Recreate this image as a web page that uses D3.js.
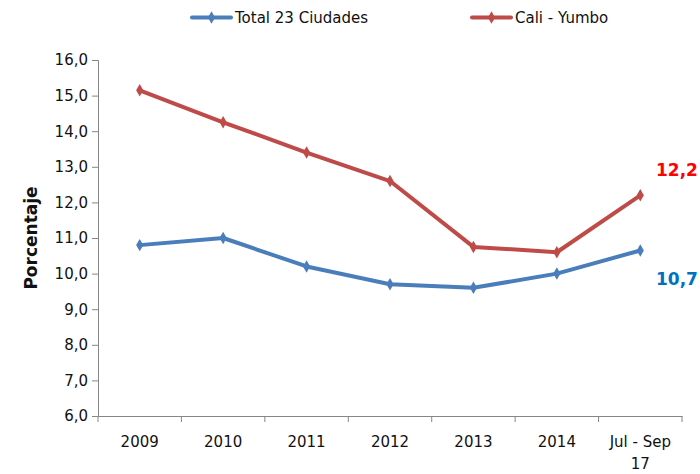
<!DOCTYPE html>
<html><head><meta charset="utf-8">
<script src="https://cdn.jsdelivr.net/npm/d3@7"></script>
<style>body{margin:0;background:#fff}svg{display:block}</style>
</head><body>
<script>
const categories = ["2009","2010","2011","2012","2013","2014","Jul - Sep 17"];
const total23 = [10.8, 11.0, 10.2, 9.7, 9.6, 10.0, 10.65];
const caliYumbo = [15.15, 14.25, 13.4, 12.6, 10.75, 10.6, 12.2];
const yTicks = [6,7,8,9,10,11,12,13,14,15,16];
const seriesNames = ["Total 23 Ciudades", "Cali - Yumbo"];
const seriesColors = ["#4a7ebb", "#be4b48"];
const endLabels = ["10,7", "12,2"];
const endLabelColors = ["#0070c0", "#ff0000"];

const W = 700, H = 474;
const m = {left: 98, right: 18, top: 60, bottom: 58};
const font = "DejaVu Sans, sans-serif";
const svg = d3.select("body").append("svg").attr("width", W).attr("height", H);

const x = d3.scaleBand().domain(categories).range([m.left, W - m.right]);
const y = d3.scaleLinear().domain([6, 16]).range([H - m.bottom, m.top]);

const fmt = v => d3.format(".1f")(v).replace(".", ",");

// y axis
const yAx = svg.append("g").attr("transform", `translate(${m.left},0)`)
  .call(d3.axisLeft(y).tickValues(yTicks).tickFormat(fmt).tickSize(6).tickPadding(4));
yAx.select(".domain").attr("stroke", "#868686");
yAx.selectAll(".tick line").attr("stroke", "#868686");
yAx.selectAll("text").attr("font-family", font).attr("font-size", 15).attr("fill", "#111");

// x axis
const xAx = svg.append("g").attr("transform", `translate(0,${H - m.bottom})`)
  .call(d3.axisBottom(x).tickSize(0).tickPadding(20));
xAx.select(".domain").attr("stroke", "#868686");
xAx.selectAll(".tick line").remove();
xAx.selectAll("text").attr("font-family", font).attr("font-size", 15).attr("fill", "#111")
  .each(function(d){
    const t = d3.select(this);
    if (d.indexOf("Jul") === 0) {
      t.text(null);
      t.append("tspan").attr("x", 0).attr("dy", "0.71em").text("Jul - Sep");
      t.append("tspan").attr("x", 0).attr("dy", "1.47em").text("17");
    }
  });
// boundary ticks
const bounds = categories.map(c => x(c)).concat([x(categories[categories.length-1]) + x.bandwidth()]);
svg.append("g").selectAll("line").data(bounds).join("line")
  .attr("x1", d => d).attr("x2", d => d)
  .attr("y1", H - m.bottom).attr("y2", H - m.bottom + 6)
  .attr("stroke", "#868686");

// y title
svg.append("text").attr("transform", `translate(37,${(m.top + H - m.bottom)/2}) rotate(-90)`)
  .attr("text-anchor", "middle").attr("font-family", font).attr("font-weight", "bold")
  .attr("font-size", 17).attr("fill", "#111").text("Porcentaje");

const cx = c => x(c) + x.bandwidth()/2;
const line = d3.line().x((d,i) => cx(categories[i])).y(d => y(d));
const diamond = d3.symbol().type(d3.symbolDiamond).size(45);

const labelY = [285, 176];
[total23, caliYumbo].forEach((vals, si) => {
  svg.append("path").datum(vals).attr("d", line).attr("fill", "none")
    .attr("stroke", seriesColors[si]).attr("stroke-width", 4).attr("stroke-linejoin", "round");
  svg.append("g").selectAll("path").data(vals).join("path")
    .attr("d", diamond).attr("fill", seriesColors[si])
    .attr("transform", (d,i) => `translate(${cx(categories[i])},${y(d)})`);
  svg.append("text").attr("x", 656).attr("y", labelY[si])
    .attr("font-family", font).attr("font-weight", "bold").attr("font-size", 17)
    .attr("fill", endLabelColors[si]).text(endLabels[si]);
});

// legend
const legX = [192, 472];
seriesNames.forEach((n, i) => {
  const g = svg.append("g");
  g.append("line").attr("x1", legX[i]).attr("x2", legX[i] + 39).attr("y1", 17.5).attr("y2", 17.5)
    .attr("stroke", seriesColors[i]).attr("stroke-width", 4).attr("stroke-linecap", "round");
  g.append("path").attr("d", diamond).attr("fill", seriesColors[i])
    .attr("transform", `translate(${legX[i] + 19.5},17.5)`);
  g.append("text").attr("x", legX[i] + 43).attr("y", 23).attr("font-family", font)
    .attr("font-size", 15).attr("fill", "#111").text(n);
});
</script>
</body></html>
